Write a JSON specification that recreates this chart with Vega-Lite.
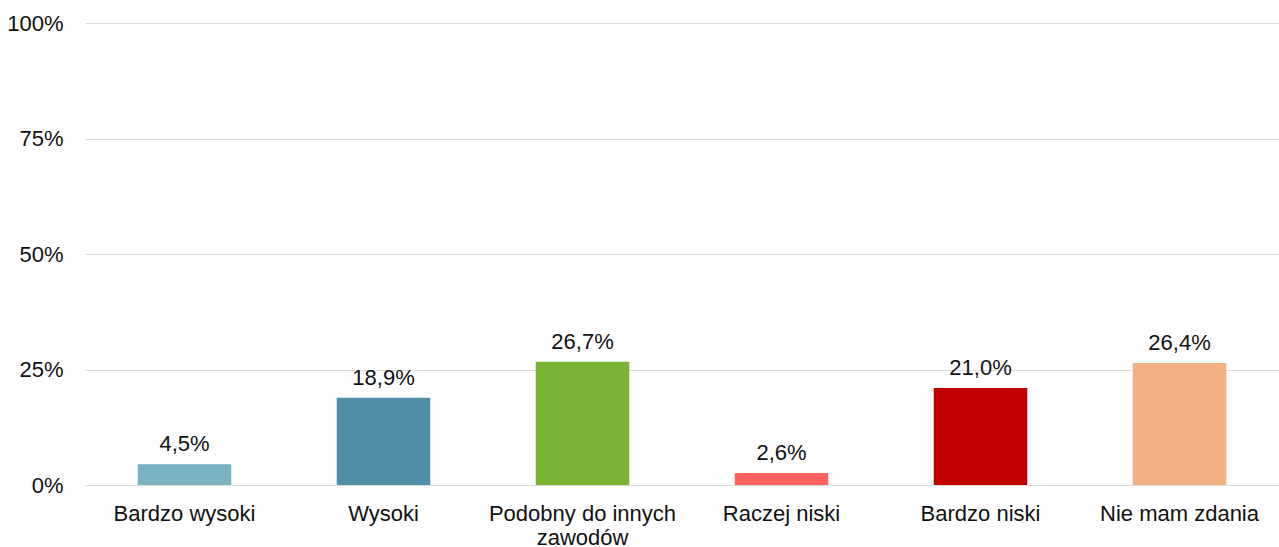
{
  "$schema": "https://vega.github.io/schema/vega-lite/v6.json",
  "width": 1194,
  "height": 462,
  "autosize": {"type": "none"},
  "padding": {"left": 85, "top": 23, "right": 0, "bottom": 62},
  "background": "white",
  "config": {
    "locale": {"number": {"decimal": ",", "thousands": " ", "grouping": [3], "currency": ["", " zł"]}},
    "font": "Liberation Sans",
    "view": {"stroke": null},
    "text": {"font": "Liberation Sans"}
  },
  "data": {
    "values": [
      {"kategoria": "Bardzo wysoki", "udzial": 0.045, "kolor": "#7bb3bf"},
      {"kategoria": "Wysoki", "udzial": 0.189, "kolor": "#4e8ea7"},
      {"kategoria": "Podobny do innych zawodów", "udzial": 0.267, "kolor": "#79b532"},
      {"kategoria": "Raczej niski", "udzial": 0.026, "kolor": "#ff6361"},
      {"kategoria": "Bardzo niski", "udzial": 0.21, "kolor": "#c00000"},
      {"kategoria": "Nie mam zdania", "udzial": 0.264, "kolor": "#f4b183"}
    ]
  },
  "encoding": {
    "x": {
      "field": "kategoria",
      "type": "nominal",
      "sort": null,
      "scale": {"paddingInner": 0.53, "paddingOuter": 0.265},
      "axis": {
        "title": null,
        "labelAngle": 0,
        "domain": false,
        "ticks": false,
        "labelFont": "Liberation Sans",
        "labelFontSize": 22,
        "labelColor": "#111111",
        "labelPadding": 18,
        "labelLimit": 400,
        "labelLineHeight": 24,
        "labelExpr": "datum.label == 'Podobny do innych zawodów' ? ['Podobny do innych', 'zawodów'] : datum.label"
      }
    },
    "y": {
      "field": "udzial",
      "type": "quantitative",
      "scale": {"domain": [0, 1], "nice": false},
      "axis": {
        "title": null,
        "values": [0, 0.25, 0.5, 0.75, 1],
        "format": ".0%",
        "domain": false,
        "ticks": false,
        "grid": true,
        "gridColor": "#dddddd",
        "gridWidth": 1,
        "labelFont": "Liberation Sans",
        "labelFontSize": 22,
        "labelColor": "#111111",
        "labelPadding": 22
      }
    }
  },
  "layer": [
    {
      "mark": {"type": "bar"},
      "encoding": {
        "color": {"field": "kolor", "type": "nominal", "scale": null, "legend": null}
      }
    },
    {
      "mark": {"type": "text", "baseline": "alphabetic", "dy": -13, "fontSize": 22, "color": "#111111"},
      "encoding": {
        "text": {"field": "udzial", "type": "quantitative", "format": ".1%"}
      }
    }
  ]
}
